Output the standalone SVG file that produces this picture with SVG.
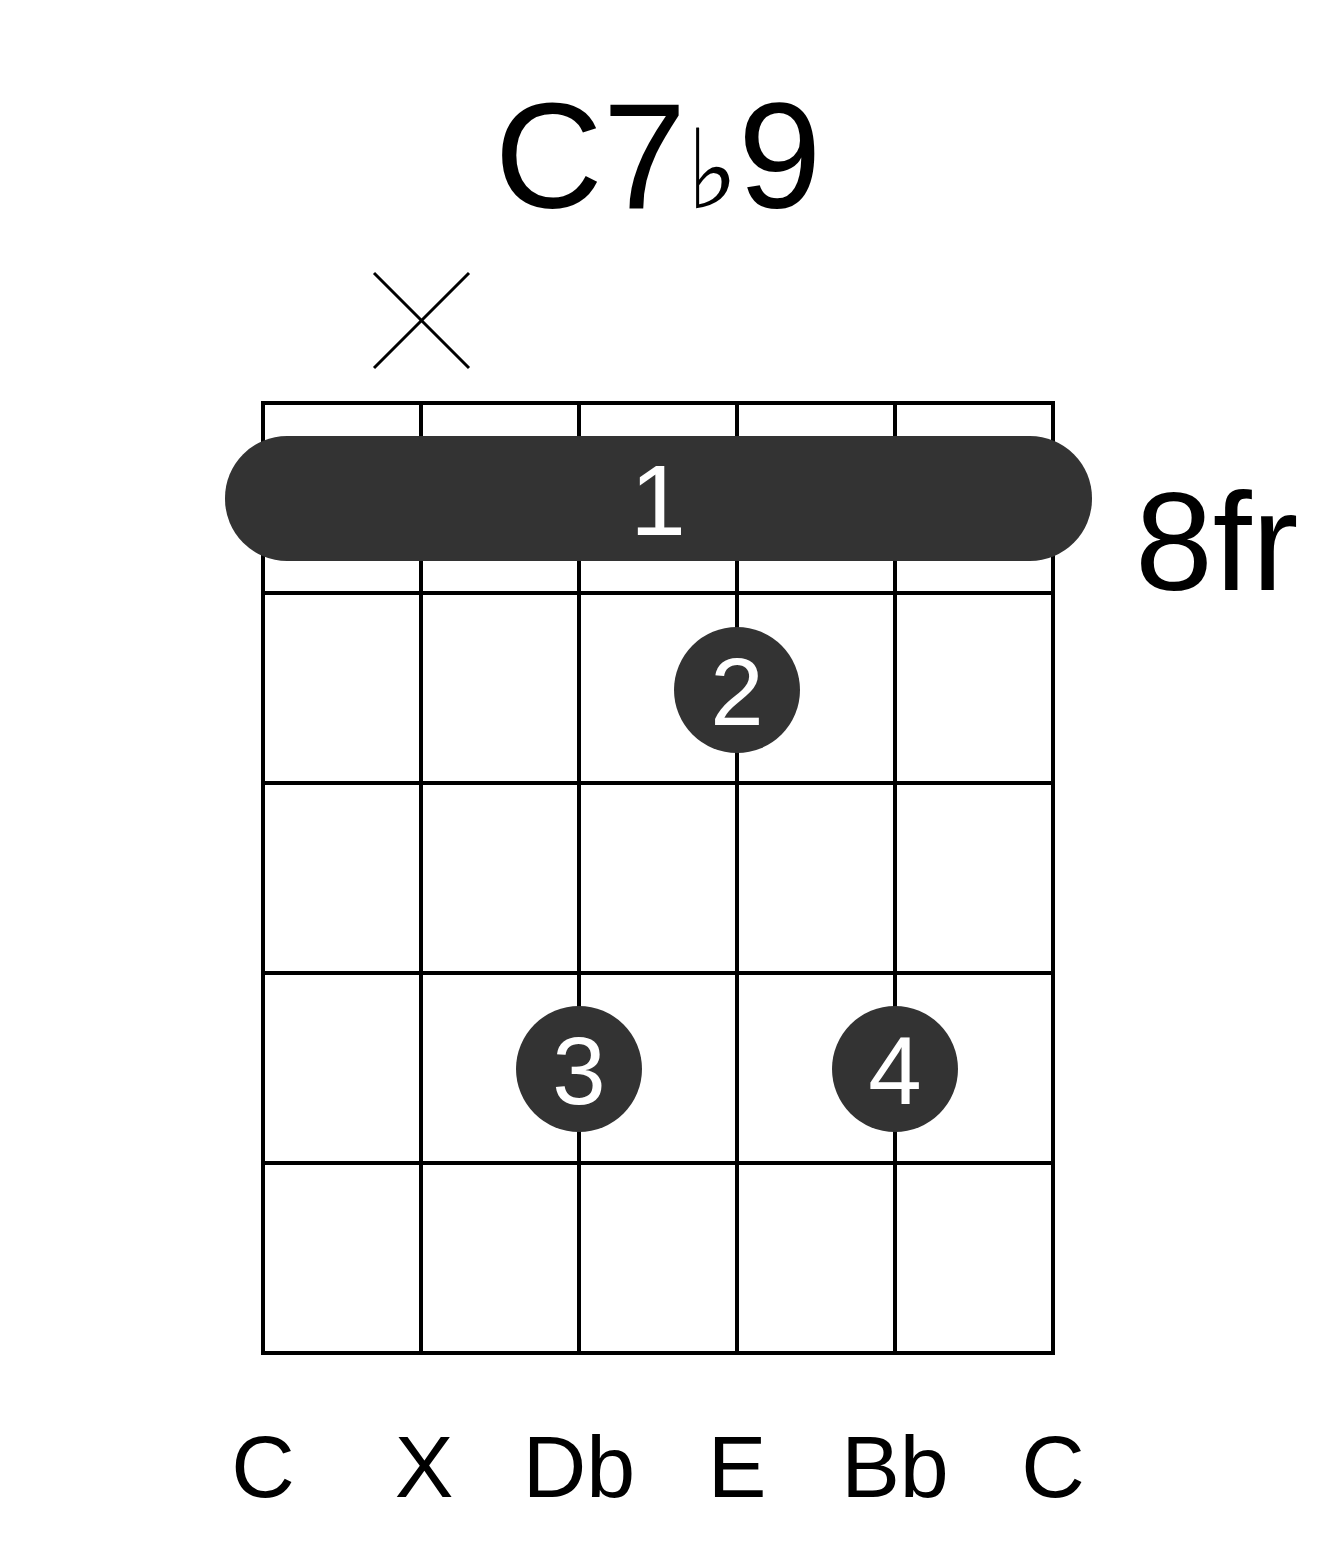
<svg xmlns="http://www.w3.org/2000/svg" width="1317" height="1551" viewBox="0 0 1317 1551">
<style>
.g{stroke:#000;stroke-width:4;fill:none}
.t{font-family:"Liberation Sans",Arial,sans-serif;fill:#000}
.w{font-family:"Liberation Sans",Arial,sans-serif;fill:#fff;text-anchor:middle}
.d{fill:#333}
.n{font-family:"Liberation Sans",Arial,sans-serif;font-size:88px;text-anchor:middle;fill:#000}
</style>
<rect width="1317" height="1551" fill="#fff"/>
<text class="t" x="658" y="208" font-size="150" text-anchor="middle">C7<tspan font-family="DejaVu Sans, sans-serif" font-size="110">♭</tspan>9</text>
<g id="grid" class="g">
<rect x="263" y="403" width="790" height="950"/>
<line x1="421" y1="403" x2="421" y2="1353"/><line x1="579" y1="403" x2="579" y2="1353"/><line x1="737" y1="403" x2="737" y2="1353"/><line x1="895" y1="403" x2="895" y2="1353"/>
<line x1="263" y1="593" x2="1053" y2="593"/><line x1="263" y1="783" x2="1053" y2="783"/><line x1="263" y1="973" x2="1053" y2="973"/><line x1="263" y1="1163" x2="1053" y2="1163"/>
</g>
<g id="mute" stroke="#000" stroke-width="3"><line x1="374" y1="273" x2="469" y2="368"/><line x1="469" y1="273" x2="374" y2="368"/></g>
<g id="barre"><rect class="d" x="225" y="436" width="867" height="125" rx="62"/><text class="w" x="658" y="535" font-size="100">1</text></g>
<g id="f2"><circle class="d" cx="737" cy="690" r="63"/><text class="w" x="737" y="725" font-size="96">2</text></g>
<g id="f3"><circle class="d" cx="579" cy="1069" r="63"/><text class="w" x="579" y="1104" font-size="96">3</text></g>
<g id="f4"><circle class="d" cx="895" cy="1069" r="63"/><text class="w" x="895" y="1104" font-size="96">4</text></g>
<text class="t" x="1135" y="590" font-size="140">8fr</text>
<g id="notes"><text class="n" x="263" y="1497">C</text><text class="n" x="424" y="1497">X</text><text class="n" x="579" y="1497">Db</text><text class="n" x="737" y="1497">E</text><text class="n" x="895" y="1497">Bb</text><text class="n" x="1053" y="1497">C</text></g>
</svg>
